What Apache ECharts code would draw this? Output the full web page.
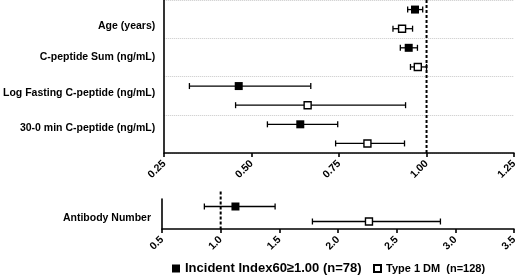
<!DOCTYPE html>
<html>
<head>
<meta charset="utf-8">
<script src="https://cdn.jsdelivr.net/npm/echarts@6/dist/echarts.min.js"></script>
<style>
html, body { margin: 0; padding: 0; background: #fff; }
#chart { width: 520px; height: 277px; }
</style>
</head>
<body>
<div id="chart"></div>
<script>
// top panel: four C-peptide / age rows, two groups each
var topLabels = [ 'Age (years)', 'C-peptide Sum (ng/mL)', 'Log Fasting C-peptide (ng/mL)', '30-0 min C-peptide (ng/mL)' ];
var incEst = [ 0.967, 0.949, 0.463, 0.639 ];
var incLo = [ 0.946, 0.925, 0.322, 0.545 ];
var incHi = [ 0.989, 0.974, 0.669, 0.746 ];
var t1dEst = [ 0.930, 0.975, 0.660, 0.831 ];
var t1dLo = [ 0.904, 0.954, 0.454, 0.740 ];
var t1dHi = [ 0.960, 1.000, 0.940, 0.937 ];

// bottom panel
var botLabels = [ 'Antibody Number' ];
var incEstB = [ 1.126 ];
var incLoB = [ 0.861 ];
var incHiB = [ 1.464 ];
var t1dEstB = [ 2.264 ];
var t1dLoB = [ 1.782 ];
var t1dHiB = [ 2.873 ];

var refValue = 1.0;
var incName = 'Incident Index60\u22651.00 (n=78)';
var t1dName = 'Type 1 DM  (n=128)';

var FONT = 'Liberation Sans, Arial, sans-serif';

// where the row labels sit on the hidden 0..8 / 0..2 axes (layout only)
var topLabelPos = [ 1.36, 2.97, 4.88, 6.69 ];
var botLabelPos = [ 1.27 ];

// row slot: group i, member k (0 = incident, 1 = T1D)
function pts(est, k) {
	var out = [];
	for (var i = 0; i < est.length; i++) {
		out.push([ est[i], i * 2 + k + 0.5 ]);
	}
	return out;
}
function bars(lo, hi, k) {
	var out = [];
	for (var i = 0; i < lo.length; i++) {
		out.push([ lo[i], hi[i], i * 2 + k + 0.5 ]);
	}
	return out;
}
function nearestLabel(pos, names) {
	return function(v) {
		var best = 0;
		for (var i = 1; i < pos.length; i++) {
			if (Math.abs(pos[i] - v) < Math.abs(pos[best] - v)) best = i;
		}
		return names[best];
	};
}

function renderErr(params, api) {
	var a = api.coord([ api.value(0), api.value(2) ]);
	var b = api.coord([ api.value(1), api.value(2) ]);
	var cap = 3;
	var st = { stroke : '#000', lineWidth : 1.3 };
	return {
		type : 'group',
		children : [
			{ type : 'line', shape : { x1 : a[0], y1 : a[1], x2 : b[0], y2 : b[1] }, style : st },
			{ type : 'line', shape : { x1 : a[0], y1 : a[1] - cap, x2 : a[0], y2 : a[1] + cap }, style : st },
			{ type : 'line', shape : { x1 : b[0], y1 : b[1] - cap, x2 : b[0], y2 : b[1] + cap }, style : st }
		]
	};
}

function renderRef(params, api) {
	var a = api.coord([ api.value(0), api.value(1) ]);
	var b = api.coord([ api.value(0), api.value(2) ]);
	return {
		type : 'line',
		shape : { x1 : a[0], y1 : a[1], x2 : b[0], y2 : b[1] },
		style : { stroke : '#000', lineWidth : 2, lineDash : [ 3, 2 ] }
	};
}

var axisLineStyle = { color : '#000', width : 1.6 };

function xAxisCfg(grid, min, max, step, digits) {
	return {
		gridIndex : grid, type : 'value', min : min, max : max, interval : step,
		axisLine : { onZero : false, lineStyle : axisLineStyle },
		axisTick : { show : true, length : 4, lineStyle : axisLineStyle },
		splitLine : { show : false },
		axisLabel : {
			rotate : 45, margin : 9, color : '#000', fontWeight : 'bold', fontSize : 10.5, fontFamily : FONT,
			formatter : function(v) { return v.toFixed(digits); }
		}
	};
}

var option = {
	animation : false,
	textStyle : { fontFamily : FONT },
	legend : [
		{
			top : 262, left : 172, itemWidth : 8, itemHeight : 8, padding : 0,
			textStyle : { fontFamily : FONT, fontWeight : 'bold', fontSize : 13, color : '#000' },
			data : [ incName ]
		},
		{
			top : 263, left : 373, itemWidth : 7, itemHeight : 7, padding : 0, itemGap : 0,
			textStyle : { fontFamily : FONT, fontWeight : 'bold', fontSize : 11, color : '#000' },
			data : [ t1dName ]
		}
	],
	grid : [
		{ left : 162, right : 2, top : 0, height : 153 },
		{ left : 162, right : 3, top : 199, height : 30 }
	],
	xAxis : [
		xAxisCfg(0, 0.25, 1.25, 0.25, 2),
		xAxisCfg(1, 0.5, 3.5, 0.5, 1)
	],
	yAxis : [
		{
			gridIndex : 0, type : 'value', min : 0, max : 8, interval : 2, inverse : true, position : 'left',
			axisLine : { show : true, onZero : false, lineStyle : axisLineStyle },
			axisTick : { show : false },
			axisLabel : { show : false },
			splitLine : { show : true, lineStyle : { color : '#c8c8c8', type : 'dotted', width : 1 } }
		},
		{
			gridIndex : 0, type : 'value', min : 0, max : 8, inverse : true, position : 'left', offset : 0,
			axisLine : { show : false, onZero : false },
			axisTick : { show : false },
			splitLine : { show : false },
			axisLabel : {
				customValues : topLabelPos,
				margin : 9, color : '#000', fontWeight : 'bold', fontSize : 10.5, fontFamily : FONT,
				formatter : nearestLabel(topLabelPos, topLabels)
			}
		},
		{
			gridIndex : 1, type : 'value', min : 0, max : 2, inverse : true, position : 'left',
			axisLine : { show : true, onZero : false, lineStyle : axisLineStyle },
			axisTick : { show : false },
			splitLine : { show : false },
			axisLabel : {
				customValues : botLabelPos,
				margin : 11, color : '#000', fontWeight : 'bold', fontSize : 10.5, fontFamily : FONT,
				formatter : nearestLabel(botLabelPos, botLabels)
			}
		}
	],
	series : [
		{ type : 'custom', xAxisIndex : 0, yAxisIndex : 0, renderItem : renderRef, clip : false, silent : true,
			encode : { x : 0, y : [ 1, 2 ] }, data : [ [ refValue, 0, 8 ] ], z : 1 },
		{ type : 'custom', xAxisIndex : 1, yAxisIndex : 2, renderItem : renderRef, clip : false, silent : true,
			encode : { x : 0, y : [ 1, 2 ] }, data : [ [ refValue, -0.5, 2 ] ], z : 1 },

		{ type : 'custom', xAxisIndex : 0, yAxisIndex : 0, renderItem : renderErr, silent : true,
			encode : { x : [ 0, 1 ], y : 2 }, data : bars(incLo, incHi, 0), z : 2 },
		{ type : 'custom', xAxisIndex : 0, yAxisIndex : 0, renderItem : renderErr, silent : true,
			encode : { x : [ 0, 1 ], y : 2 }, data : bars(t1dLo, t1dHi, 1), z : 2 },
		{ type : 'custom', xAxisIndex : 1, yAxisIndex : 2, renderItem : renderErr, silent : true,
			encode : { x : [ 0, 1 ], y : 2 }, data : bars(incLoB, incHiB, 0), z : 2 },
		{ type : 'custom', xAxisIndex : 1, yAxisIndex : 2, renderItem : renderErr, silent : true,
			encode : { x : [ 0, 1 ], y : 2 }, data : bars(t1dLoB, t1dHiB, 1), z : 2 },

		{ name : incName, type : 'scatter', xAxisIndex : 0, yAxisIndex : 0, symbol : 'rect', symbolSize : 8,
			itemStyle : { color : '#000', opacity : 1 }, data : pts(incEst, 0), z : 3 },
		{ name : t1dName, type : 'scatter', xAxisIndex : 0, yAxisIndex : 0, symbol : 'rect', symbolSize : 7,
			itemStyle : { color : '#fff', borderColor : '#000', borderWidth : 1.4, opacity : 1 }, data : pts(t1dEst, 1), z : 3 },
		{ name : incName, type : 'scatter', xAxisIndex : 1, yAxisIndex : 2, symbol : 'rect', symbolSize : 8,
			itemStyle : { color : '#000', opacity : 1 }, data : pts(incEstB, 0), z : 3 },
		{ name : t1dName, type : 'scatter', xAxisIndex : 1, yAxisIndex : 2, symbol : 'rect', symbolSize : 7,
			itemStyle : { color : '#fff', borderColor : '#000', borderWidth : 1.4, opacity : 1 }, data : pts(t1dEstB, 1), z : 3 }
	]
};

var chart = echarts.init(document.getElementById('chart'), null, { renderer : 'canvas' });
chart.setOption(option);
</script>
</body>
</html>
